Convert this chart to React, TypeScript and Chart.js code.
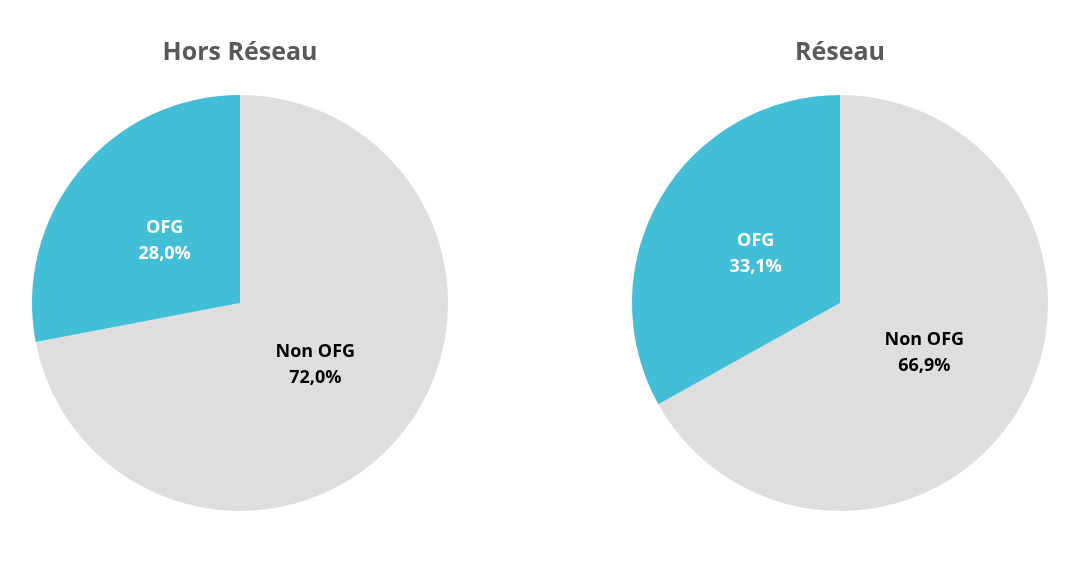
import React, { useEffect, useRef } from 'react';
import { Chart, registerables } from 'chart.js';

Chart.register(...registerables);

// one pie per network
const categories = ['Non OFG', 'OFG'];
const horsReseauValues = [72.0, 28.0];
const reseauValues = [66.9, 33.1];
const titles = ['Hors Réseau', 'Réseau'];

const sliceColors = ['#DEDEDE', '#42BFD7'];
const labelColors = ['#000000', '#FFFFFF'];
const FONT = '"Open Sans", "Liberation Sans", sans-serif';

const fmt = (v: number) => v.toFixed(1).replace('.', ',') + '%';

// draws the title above the pie and the two-line labels inside the slices
const pieLabels = {
  id: 'pieLabels',
  afterDatasetsDraw(chart: any, _args: any, opts: any) {
    const { ctx, chartArea } = chart;
    const meta = chart.getDatasetMeta(0);
    const values = chart.data.datasets[0].data as number[];

    ctx.save();
    ctx.textAlign = 'center';
    ctx.textBaseline = 'middle';

    ctx.fillStyle = '#595959';
    ctx.font = `bold 25px ${FONT}`;
    ctx.fillText(opts.title, (chartArea.left + chartArea.right) / 2, chartArea.top - 42);

    ctx.font = `bold 18px ${FONT}`;
    meta.data.forEach((arc: any, i: number) => {
      const { x, y, startAngle, endAngle, outerRadius } = arc.getProps(
        ['x', 'y', 'startAngle', 'endAngle', 'outerRadius'],
        true
      );
      const mid = (startAngle + endAngle) / 2;
      const r = outerRadius * 0.47;
      const lx = x + Math.cos(mid) * r;
      const ly = y + Math.sin(mid) * r;
      ctx.fillStyle = labelColors[i];
      ctx.fillText(chart.data.labels[i], lx, ly - 13);
      ctx.fillText(fmt(values[i]), lx, ly + 13);
    });
    ctx.restore();
  }
};

interface PieProps {
  values: number[];
  title: string;
  left: number;
}

const PieChart: React.FC<PieProps> = ({ values, title, left }) => {
  const canvasRef = useRef<HTMLCanvasElement>(null);

  useEffect(() => {
    if (!canvasRef.current) return;
    const chart = new Chart(canvasRef.current, {
      type: 'pie',
      data: {
        labels: categories,
        datasets: [
          {
            data: values,
            backgroundColor: sliceColors,
            borderWidth: 0
          }
        ]
      },
      options: {
        responsive: false,
        animation: false,
        layout: { padding: { top: 95, bottom: 65, left: 32, right: 32 } },
        plugins: {
          legend: { display: false },
          tooltip: { enabled: false },
          title: { display: false },
          pieLabels: { title }
        } as any
      },
      plugins: [pieLabels]
    });
    return () => chart.destroy();
  }, [values, title]);

  return (
    <canvas
      ref={canvasRef}
      width={480}
      height={576}
      style={{ position: 'absolute', left, top: 0, width: 480, height: 576 }}
    />
  );
};

export default function App() {
  return (
    <div style={{ position: 'absolute', left: 0, top: 0, width: 1090, height: 576, background: '#fff' }}>
      <PieChart values={horsReseauValues} title={titles[0]} left={0} />
      <PieChart values={reseauValues} title={titles[1]} left={600} />
    </div>
  );
}
